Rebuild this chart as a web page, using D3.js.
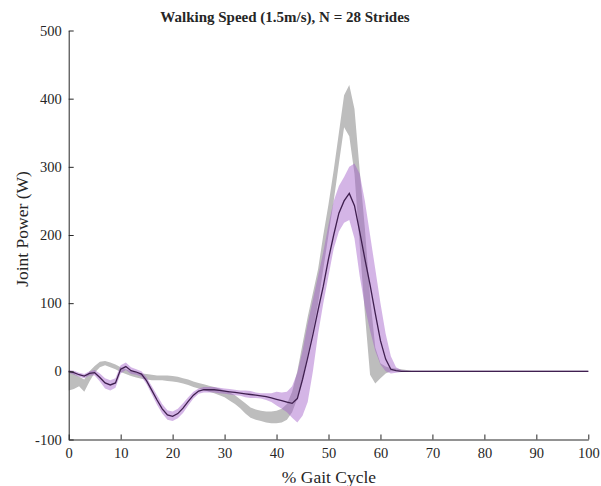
<!DOCTYPE html>
<html>
<head>
<meta charset="utf-8">
<script src="https://cdnjs.cloudflare.com/ajax/libs/d3/7.8.5/d3.min.js"></script>
<style>
  body { margin: 0; background: #fff; }
  text { font-family: "Liberation Serif", "Times New Roman", serif; fill: #262626; }
  .axis path, .axis line { stroke: #262626; }
</style>
</head>
<body>
<div id="chart"></div>
<script>
w = 601;
h = 486;
margin = {top: 30.5, right: 12.7, bottom: 46.5, left: 68.7};

// % gait cycle, 0..100
gaitPct = [0,1,2,3,4,5,6,7,8,9,10,11,12,13,14,15,16,17,18,19,20,21,22,23,24,25,26,27,28,29,30,
  31,32,33,34,35,36,37,38,39,40,41,42,43,44,45,46,47,48,49,50,51,52,53,54,55,56,57,58,59,60,
  61,62,63,64,65,66,67,68,69,70,71,72,73,74,75,76,77,78,79,80,81,82,83,84,85,86,87,88,89,90,
  91,92,93,94,95,96,97,98,99,100];

// purple: mean and band
meanPower = [0,-2,-5,-7,-3,-2,-9,-17,-20,-17,3,7,1,-1,-4,-14,-28,-42,-55,-64,-66,
  -62,-54,-44,-35,-29,-27,-27,-27,-28,-29,-30,-31,-32,-33,-34,-35,-36,-37,-39,-41,
  -43,-45,-47,-40,-12,20,54,90,125,165,200,232,250,261,243,205,165,127,85,45,
  18,3,1,0,0,0,0,0,0,0,0,0,0,0,0,0,0,0,0,0,0,0,0,0,0,0,0,0,0,0,
  0,0,0,0,0,0,0,0,0,0];
upperPower = [2,1,-2,-4,0,2,-3,-10,-13,-10,9,13,6,3,0,-9,-22,-35,-48,-57,-59,
  -55,-47,-38,-30,-25,-23,-23,-23,-24,-25,-26,-27,-28,-28,-29,-31,-32,-32,-32,-30,
  -31,-30,-22,-2,30,70,105,140,175,215,250,272,285,300,305,290,250,200,150,100,
  55,22,6,2,1,1,1,1,1,1,1,1,1,1,1,1,1,1,1,1,1,1,1,1,1,1,1,1,1,1,
  1,1,1,1,1,1,1,1,1,1];
lowerPower = [-2,-5,-8,-10,-6,-6,-15,-25,-28,-24,-3,2,-4,-5,-8,-19,-34,-49,-62,-71,-73,
  -69,-61,-50,-40,-33,-31,-31,-31,-32,-33,-34,-35,-36,-38,-39,-39,-40,-42,-45,-50,
  -55,-60,-68,-75,-65,-45,0,55,100,140,180,205,218,222,195,140,95,60,30,10,
  0,-3,-2,-1,-1,-1,-1,-1,-1,-1,-1,-1,-1,-1,-1,-1,-1,-1,-1,-1,-1,-1,-1,-1,-1,-1,-1,-1,-1,-1,
  -1,-1,-1,-1,-1,-1,-1,-1,-1,-1];

// gray reference band
refUpper = [0,-3,-8,-12,0,8,14,15,13,10,6,3,0,-2,-3,-4,-5,-6,-6,-6,-7,
  -8,-10,-12,-15,-17,-19,-21,-23,-25,-28,-31,-35,-41,-47,-53,-56,-58,-59,-59,-58,
  -55,-48,-30,0,40,80,115,150,200,245,295,350,405,420,385,295,210,110,35,12,
  7,5,4,3,2,1,1,1,1,1,1,1,1,1,1,1,1,1,1,1,1,1,1,1,1,1,1,1,1,1,
  1,1,1,1,1,1,1,1,1,1];
refLower = [-28,-26,-22,-30,-15,-2,6,9,6,3,-1,-4,-7,-9,-11,-12,-13,-13,-13,-14,-15,
  -16,-18,-20,-23,-25,-27,-30,-32,-35,-38,-43,-48,-54,-62,-68,-71,-73,-75,-76,-76,
  -75,-71,-60,-40,-10,25,60,100,150,200,250,305,358,345,290,185,85,-5,-18,-10,
  -3,0,0,0,-1,-1,-1,-1,-1,-1,-1,-1,-1,-1,-1,-1,-1,-1,-1,-1,-1,-1,-1,-1,-1,-1,-1,-1,-1,-1,
  -1,-1,-1,-1,-1,-1,-1,-1,-1,-1];

xTicks = [0,10,20,30,40,50,60,70,80,90,100];
yTicks = [-100,0,100,200,300,400,500];

data = gaitPct.map(function(p, i) {
  return {pct: p, mean: meanPower[i], up: upperPower[i], lo: lowerPower[i],
          rUp: refUpper[i], rLo: refLower[i]};
});

var svg = d3.select("#chart").append("svg")
  .attr("width", w)
  .attr("height", h);

xScale = d3.scaleLinear().domain([0, 100]).range([margin.left, w - margin.right]);
yScale = d3.scaleLinear().domain([-100, 500]).range([h - margin.bottom, margin.top]);

// gray band
svg.append("path")
  .datum(data)
  .attr("fill", "#bdbdbd")
  .attr("d", d3.area()
    .x(function(d) { return xScale(d.pct); })
    .y0(function(d) { return yScale(d.rLo); })
    .y1(function(d) { return yScale(d.rUp); }));

// purple band
svg.append("path")
  .datum(data)
  .attr("fill", "rgb(160,90,200)")
  .attr("fill-opacity", 0.45)
  .attr("d", d3.area()
    .x(function(d) { return xScale(d.pct); })
    .y0(function(d) { return yScale(d.lo); })
    .y1(function(d) { return yScale(d.up); }));

// mean line
svg.append("path")
  .datum(data)
  .attr("fill", "none")
  .attr("stroke", "#3f1f4f")
  .attr("stroke-width", 1.3)
  .attr("d", d3.line()
    .x(function(d) { return xScale(d.pct); })
    .y(function(d) { return yScale(d.mean); }));

// plain hyphen for negatives, like the original
function plain(d) { return String(d); }

xAxis = d3.axisBottom(xScale).tickValues(xTicks).tickFormat(plain)
  .tickSizeInner(-5).tickSizeOuter(0).tickPadding(8);
xAxisG = svg.append("g")
  .attr("class", "axis")
  .attr("transform", "translate(0," + (h - margin.bottom) + ")")
  .call(xAxis);

yAxis = d3.axisLeft(yScale).tickValues(yTicks).tickFormat(plain)
  .tickSizeInner(-5).tickSizeOuter(0).tickPadding(7);
yAxisG = svg.append("g")
  .attr("class", "axis")
  .attr("transform", "translate(" + margin.left + ",0)")
  .call(yAxis);

svg.selectAll(".axis text")
  .attr("font-family", "Liberation Serif, serif")
  .attr("font-size", "14.5px")
  .attr("fill", "#262626");
svg.selectAll(".axis .domain").attr("stroke-width", 1);

svg.append("text")
  .attr("x", 329)
  .attr("y", 482.5)
  .attr("text-anchor", "middle")
  .attr("font-size", "17.5px")
  .text("% Gait Cycle");

svg.append("text")
  .attr("transform", "translate(27.5,229) rotate(-90)")
  .attr("text-anchor", "middle")
  .attr("font-size", "17.5px")
  .text("Joint Power (W)");

svg.append("text")
  .attr("x", 285)
  .attr("y", 22)
  .attr("text-anchor", "middle")
  .attr("font-size", "15px")
  .attr("font-weight", "bold")
  .attr("fill", "#000")
  .text("Walking Speed (1.5m/s), N = 28 Strides");
</script>
</body>
</html>
